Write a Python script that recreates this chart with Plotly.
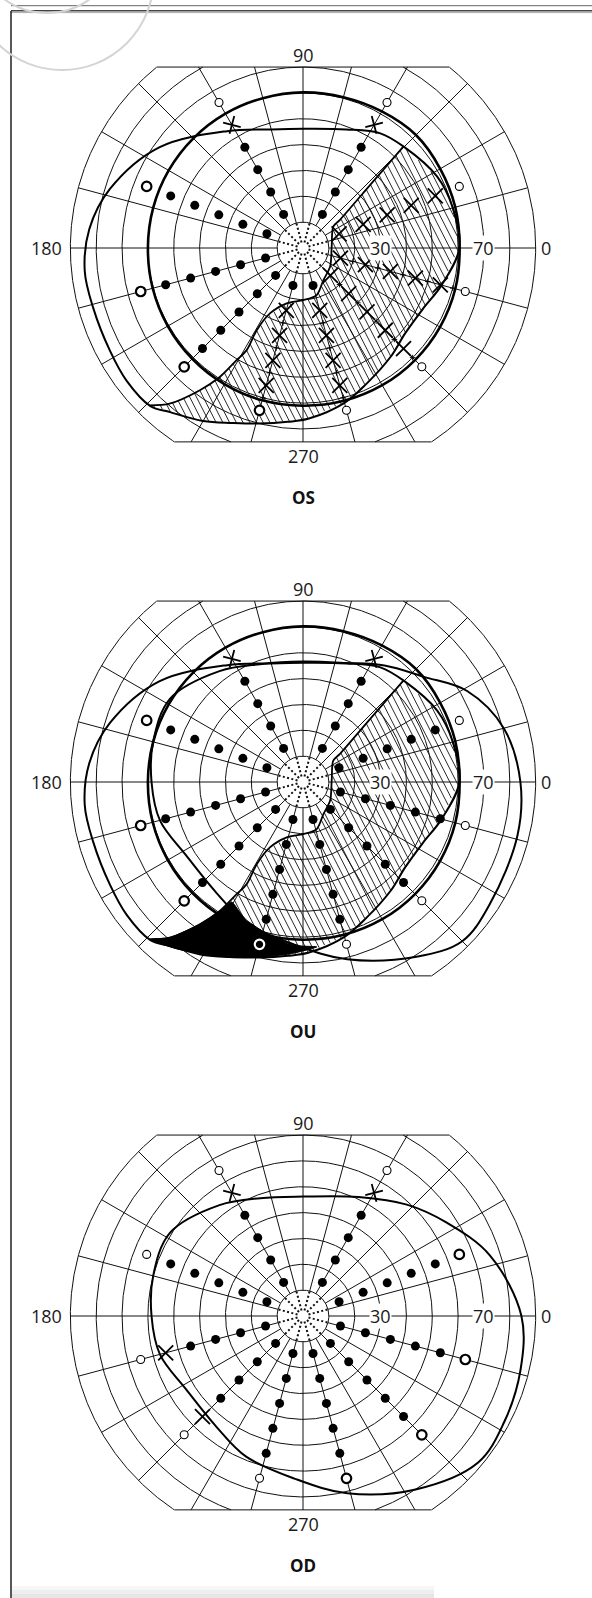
import numpy as np
import plotly.graph_objects as go

# ---------------- page / scale ----------------
W, H = 592, 1598
PPD = 2.585            # pixels per degree of eccentricity
CX = 303
PANEL_CY = [248, 782, 1316]
PANEL_LABELS = ["OS", "OU", "OD"]

# ---------------- chart grid (degrees) ----------------
RINGS = [10, 20, 30, 40, 50, 60, 70, 80, 90]
MERIDIANS = list(range(0, 360, 15))
SPOKES = list(range(15, 360, 30))
FIELD_TOP = 70
FIELD_BOTTOM = -75
FIELD_EDGE = 90
SCALE_LABELS = [30, 70]

# hatch texture of the defect area
HATCH_ANGLE = -63      # degrees (lines falling to the right)
HATCH_STEP = 2.6       # horizontal spacing, degrees

# ---------------- test points ----------------
ROW_ANGLES = [60, 21.5, 345, 315, 285, 255, 225, 195, 158.5, 120]
ROW_ECC = [15, 25, 35, 45, 55, 65]
# D = seen (dot), X = not seen, o = thin open circle, O = bold open circle, W = open circle inside black area
OS_CODES = ["DDDDXo", "XXXXXo", "XXXXXo", "XXXXXo", "DXXXXo", "DXXXXO", "DDDDDO", "DDDDDO", "DDDDDO", "DDDDXo"]
OU_CODES = ["DDDDX-", "DDDDDo", "DDDDDo", "DDDDDo", "DDDDDo", "DDDDDW", "DDDDDO", "DDDDDO", "DDDDDO", "DDDDX-"]
OD_CODES = ["DDDDXo", "DDDDDO", "DDDDDO", "DDDDDO", "DDDDDO", "DDDDDo", "DDDDXo", "DDDDXo", "DDDDDo", "DDDDXo"]
PANEL_CODES = [OS_CODES, OU_CODES, OD_CODES]

OS_TICK_ANG = [345, 345, 345, 345, 345, 315, 315, 315, 315, 315, 285, 285, 285, 285, 255, 255, 255, 255]
OS_TICK_ECC = [20, 30, 40, 50, 60, 20, 30, 40, 50, 60, 30, 40, 50, 60, 30, 40, 50, 60]

# ---------------- isopters ----------------
CIRCLE60_ANG = list(range(0, 360, 15))
CIRCLE60_R = [60.6, 61.0, 61.3, 61.8, 61.0, 60.4, 60.2, 60.0, 60.0, 60.0, 60.0, 60.0,
              60.0, 60.2, 60.4, 60.6, 60.8, 61.0, 61.0, 61.2, 61.3, 61.3, 61.2, 61.0]

OS_OUT_ANG = [0, 15, 28, 45, 56, 70, 90, 105, 123, 145, 163, 175, 186, 196, 208, 217, 226,
              231, 240, 248, 256, 265, 272, 285, 295, 309, 320, 333, 345]
OS_OUT_R = [60.5, 60.0, 58.8, 55.3, 53.5, 48.8, 46.1, 47.5, 53.9, 67.9, 78.1, 83.0, 84.9, 84.4, 84.6, 85.4, 85.0,
            81.7, 77.3, 73.0, 70.0, 67.5, 66.0, 62.0, 58.0, 54.0, 51.5, 52.0, 55.5]

OD_OUT_ANG = [0, 18, 33, 47, 65, 90, 110, 127, 148, 165, 180, 195, 212, 232, 248, 267, 284, 303, 320, 332, 346]
OD_OUT_R = [84.5, 76.0, 66.3, 58.9, 50.8, 46.2, 48.5, 53.7, 60.7, 60.0, 58.6, 57.3, 53.4, 54.4, 58.7, 63.0,
            70.7, 80.0, 88.3, 88.0, 86.7]

OU_OD_ANG = [0, 15, 29, 41, 55, 70, 90, 110, 127, 148, 165, 180, 195, 212, 232, 248, 267, 284, 303, 315, 327, 346]
OU_OD_R = [84.1, 80.4, 72.6, 62.0, 55.0, 49.0, 46.6, 48.5, 53.7, 60.7, 60.0, 58.6, 57.3, 53.4, 54.4, 58.7, 63.0,
           70.7, 80.6, 87.1, 86.3, 85.5]

# edge of the defect (x = degrees right, y = degrees up)
S_CURVE_X = [38.9, 26.5, 14.3, 11.7, 11.1, 10.5, 7.9, 5.3, 0.1, -6.3, -12.8, -17.9, -21.8, -25.7, -32.2, -39.9, -51.6, -59.3]
S_CURVE_Y = [39.3, 25.0, 10.9, 8.3, 0.5, -7.2, -12.4, -18.2, -20.2, -21.4, -25.3, -31.8, -39.5, -43.4, -49.9, -55.0, -60.2, -60.9]
S_START_ANG = 45
S_END_ANG = 226

# binocular absolute defect (OU)
OU_BLACK_X = [-59.3, -51.6, -39.9, -32.2, -27.6, -24.5, -21.8, -14.1, -3.7, 5.3, -5.0, -16.7, -27.0, -36.0, -49.0]
OU_BLACK_Y = [-60.9, -60.2, -55.0, -49.9, -46.4, -50.3, -53.5, -58.6, -63.2, -63.8, -66.5, -67.7, -68.0, -67.0, -64.5]

FONT = "Open Sans"


def polar_xy(ang, r):
    a = np.deg2rad(np.asarray(ang, float))
    r = np.asarray(r, float)
    return r * np.cos(a), r * np.sin(a)


def closed(x, y):
    x = list(x)
    y = list(y)
    return x + [x[0]], y + [y[0]]


def tolist(a):
    return [None if (v is None or (isinstance(v, float) and np.isnan(v))) else float(v) for v in a]


def inside_poly(px, py, vx, vy):
    vx = np.asarray(vx, float)
    vy = np.asarray(vy, float)
    x1, y1 = vx, vy
    x2, y2 = np.roll(vx, -1), np.roll(vy, -1)
    px = px[:, None]
    py = py[:, None]
    cond = (y1 > py) != (y2 > py)
    with np.errstate(divide="ignore", invalid="ignore"):
        xin = (x2 - x1) * (py - y1) / (y2 - y1) + x1
    hit = cond & (px < xin)
    return (hit.sum(axis=1) % 2) == 1


def hatch_segments(vx, vy):
    a = np.deg2rad(HATCH_ANGLE)
    d = np.array([np.cos(a), np.sin(a)])
    s = np.arange(-110, 110, 0.2)
    hx, hy = [], []
    for c in np.arange(-120, 120, HATCH_STEP):
        px = c + s * d[0]
        py = s * d[1]
        m = inside_poly(px, py, vx, vy)
        if not m.any():
            continue
        dm = np.diff(np.concatenate([[0], m.astype(int), [0]]))
        starts = np.where(dm == 1)[0]
        ends = np.where(dm == -1)[0] - 1
        for i0, i1 in zip(starts, ends):
            hx += [float(px[i0]), float(px[i1]), None]
            hy += [float(py[i0]), float(py[i1]), None]
    return hx, hy


fig = go.Figure()
annotations = []

for k in range(3):
    sfx = "" if k == 0 else str(k + 1)
    xa, ya = "x" + sfx, "y" + sfx
    cy = PANEL_CY[k]

    # ---- rings ----
    gx, gy = [], []
    t = np.linspace(0, 2 * np.pi, 2881)
    for r in RINGS:
        x, y = r * np.cos(t), r * np.sin(t)
        ok = (y <= FIELD_TOP) & (y >= FIELD_BOTTOM)
        gx += tolist(np.where(ok, x, np.nan)) + [None]
        gy += tolist(np.where(ok, y, np.nan)) + [None]
    # field top/bottom edges
    xt = np.sqrt(FIELD_EDGE ** 2 - FIELD_TOP ** 2)
    xb = np.sqrt(FIELD_EDGE ** 2 - FIELD_BOTTOM ** 2)
    gx += [-xt, xt, None, -xb, xb, None]
    gy += [FIELD_TOP, FIELD_TOP, None, FIELD_BOTTOM, FIELD_BOTTOM, None]
    # meridians
    for m in MERIDIANS:
        s = np.sin(np.deg2rad(m))
        rend = FIELD_EDGE
        if s > 1e-9:
            rend = min(rend, FIELD_TOP / s)
        elif s < -1e-9:
            rend = min(rend, FIELD_BOTTOM / s)
        x0, y0 = polar_xy(m, RINGS[0])
        x1, y1 = polar_xy(m, rend)
        gx += [float(x0), float(x1), None]
        gy += [float(y0), float(y1), None]
    fig.add_trace(go.Scatter(x=gx, y=gy, mode="lines", line=dict(color="#111", width=1.0),
                             xaxis=xa, yaxis=ya, hoverinfo="skip", showlegend=False))
    # central dotted spokes
    sx, sy = [], []
    for m in SPOKES:
        x0, y0 = polar_xy(m, 2.2)
        x1, y1 = polar_xy(m, RINGS[0])
        sx += [float(x0), float(x1), None]
        sy += [float(y0), float(y1), None]
    fig.add_trace(go.Scatter(x=sx, y=sy, mode="lines", line=dict(color="#111", width=2.0, dash="2px,2.4px"),
                             xaxis=xa, yaxis=ya, hoverinfo="skip", showlegend=False))

    # ---- defect hatch (OS, OU) ----
    if k in (0, 1):
        oa = np.array(OS_OUT_ANG, float)
        orr = np.array(OS_OUT_R, float)
        sel = np.concatenate([np.where(oa > S_END_ANG)[0], np.where(oa < S_START_ANG)[0]])
        ox, oy = polar_xy(oa[sel], orr[sel])
        polx = list(S_CURVE_X) + tolist(ox)
        poly = list(S_CURVE_Y) + tolist(oy)
        hx, hy = hatch_segments(polx, poly)
        fig.add_trace(go.Scatter(x=hx, y=hy, mode="lines", line=dict(color="#111", width=0.9),
                                 xaxis=xa, yaxis=ya, hoverinfo="skip", showlegend=False))
    if k == 1:
        bx, by = closed(OU_BLACK_X, OU_BLACK_Y)
        fig.add_trace(go.Scatter(x=bx, y=by, mode="lines", fill="toself", fillcolor="black",
                                 line=dict(width=1, color="black", shape="spline", smoothing=0.5),
                                 xaxis=xa, yaxis=ya, hoverinfo="skip", showlegend=False))

    # ---- isopter lines ----
    curves = []
    if k in (0, 1):
        curves.append((CIRCLE60_ANG, CIRCLE60_R, 2.6))
        curves.append((OS_OUT_ANG, OS_OUT_R, 2.0))
    if k == 1:
        curves.append((OU_OD_ANG, OU_OD_R, 2.0))
    if k == 2:
        curves.append((OD_OUT_ANG, OD_OUT_R, 2.0))
    for ang, rr, lw in curves:
        cx_, cy_ = polar_xy(ang, rr)
        px, py = closed(tolist(cx_), tolist(cy_))
        fig.add_trace(go.Scatter(x=px, y=py, mode="lines",
                                 line=dict(color="black", width=lw, shape="spline", smoothing=1.0),
                                 xaxis=xa, yaxis=ya, hoverinfo="skip", showlegend=False))
    if k in (0, 1):
        fig.add_trace(go.Scatter(x=S_CURVE_X, y=S_CURVE_Y, mode="lines",
                                 line=dict(color="black", width=1.8, shape="spline", smoothing=0.8),
                                 xaxis=xa, yaxis=ya, hoverinfo="skip", showlegend=False))

    # ---- tick marks between not-seen points (OS) ----
    if k == 0:
        tx, ty = polar_xy(OS_TICK_ANG, OS_TICK_ECC)
        fig.add_trace(go.Scatter(x=tolist(tx), y=tolist(ty), mode="markers",
                                 marker=dict(symbol="cross-thin", size=4, line=dict(color="black", width=1)),
                                 xaxis=xa, yaxis=ya, hoverinfo="skip", showlegend=False))

    # ---- test point markers ----
    groups = {c: ([], []) for c in "DXoOW"}
    cross_x, cross_y, cross_a = [], [], []
    for ang, code in zip(ROW_ANGLES, PANEL_CODES[k]):
        for ecc, c in zip(ROW_ECC, code):
            if c == "-":
                continue
            x, y = polar_xy(ang, ecc)
            if c == "X" and 45 < ang < 135:
                cross_x.append(float(x))
                cross_y.append(float(y))
                cross_a.append(15 if ang > 90 else -15)
            else:
                groups[c][0].append(float(x))
                groups[c][1].append(float(y))
    styles = {
        "D": dict(symbol="circle", size=9, color="black", line=dict(width=0)),
        "X": dict(symbol="x-thin", size=15, line=dict(color="black", width=1.8)),
        "o": dict(symbol="circle", size=8, color="white", line=dict(color="black", width=1.1)),
        "O": dict(symbol="circle", size=9.5, color="white", line=dict(color="black", width=2.2)),
        "W": dict(symbol="circle", size=9.5, color="black", line=dict(color="white", width=2.2)),
    }
    for c, (mx, my) in groups.items():
        if mx:
            fig.add_trace(go.Scatter(x=mx, y=my, mode="markers", marker=styles[c],
                                     xaxis=xa, yaxis=ya, hoverinfo="skip", showlegend=False))
    if cross_x:
        fig.add_trace(go.Scatter(x=cross_x, y=cross_y, mode="markers",
                                 marker=dict(symbol="cross-thin", size=13, angle=cross_a,
                                             line=dict(color="black", width=1.8)),
                                 xaxis=xa, yaxis=ya, hoverinfo="skip", showlegend=False))

    # ---- axes ----
    fig.layout["xaxis" + sfx] = dict(domain=[0, 1], range=[-CX / PPD, (W - CX) / PPD], visible=False,
                                     anchor=ya, fixedrange=True)
    fig.layout["yaxis" + sfx] = dict(domain=[0, 1], range=[(cy - H) / PPD, cy / PPD], visible=False,
                                     anchor=xa, fixedrange=True)

    # ---- labels ----
    f = dict(family=FONT, size=18, color="#1a1a1a")
    annotations += [
        dict(x=0, y=FIELD_TOP, xref=xa, yref=ya, text="90", showarrow=False, font=f,
             xanchor="center", yanchor="middle", yshift=12),
        dict(x=0, y=FIELD_BOTTOM, xref=xa, yref=ya, text="270", showarrow=False, font=f,
             xanchor="center", yanchor="middle", yshift=-14),
        dict(x=-FIELD_EDGE, y=0, xref=xa, yref=ya, text="180", showarrow=False, font=f,
             xanchor="right", yanchor="middle", xshift=-6),
        dict(x=FIELD_EDGE, y=0, xref=xa, yref=ya, text="0", showarrow=False, font=f,
             xanchor="left", yanchor="middle", xshift=3),
        dict(x=0, y=FIELD_BOTTOM, xref=xa, yref=ya, text="<b>%s</b>" % PANEL_LABELS[k], showarrow=False,
             font=dict(family=FONT, size=17, color="#111"), xanchor="center", yanchor="middle", yshift=-56),
    ]
    for v in SCALE_LABELS:
        annotations.append(dict(x=v, y=0, xref=xa, yref=ya, text=str(v), showarrow=False, font=f,
                                xanchor="center", yanchor="middle", bgcolor="white", borderpad=0))


def px2paper(px, py):
    return px / W, 1 - py / H


shapes = []
# page frame
for (x0, y0, x1, y1, col, wd) in [(11, 5.7, W, 5.7, "#666", 1.0), (11, 10.8, W, 10.8, "#444", 1.4),
                                  (11, 12.6, W, 12.6, "#aaa", 1.0), (11, 11, 11, H, "#111", 1.4)]:
    a0, b0 = px2paper(x0, y0)
    a1, b1 = px2paper(x1, y1)
    shapes.append(dict(type="line", xref="paper", yref="paper", x0=a0, y0=b0, x1=a1, y1=b1,
                       line=dict(color=col, width=wd)))
for (ccx, ccy, rad) in [(62, -21.6, 91.6), (47, -59.7, 72.7)]:
    a0, b0 = px2paper(ccx - rad, ccy + rad)
    a1, b1 = px2paper(ccx + rad, ccy - rad)
    shapes.append(dict(type="circle", xref="paper", yref="paper", x0=a0, y0=b0, x1=a1, y1=b1,
                       line=dict(color="#d4d4d4", width=2)))
for (y0, y1, col) in [(1586, 1590, "#f6f6f6"), (1590, 1594, "#eeeeee"), (1594, H, "#e6e6e6")]:
    a0, b0 = px2paper(12, y0)
    a1, b1 = px2paper(434, y1)
    shapes.append(dict(type="rect", xref="paper", yref="paper", x0=a0, y0=b0, x1=a1, y1=b1,
                       line=dict(width=0), fillcolor=col, layer="below"))

fig.update_layout(width=W, height=H, margin=dict(l=0, r=0, t=0, b=0, pad=0),
                  paper_bgcolor="white", plot_bgcolor="rgba(0,0,0,0)", showlegend=False,
                  annotations=annotations, shapes=shapes)

fig.write_html("out.html", config={"displayModeBar": False},
               post_script="document.body.style.margin='0px';")
